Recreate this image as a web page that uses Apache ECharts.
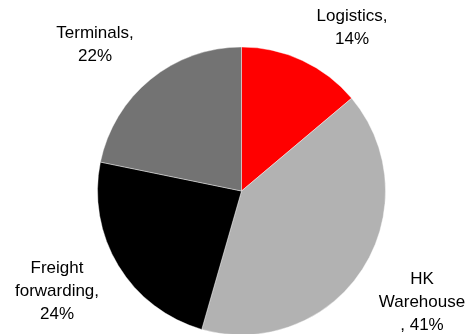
<!DOCTYPE html>
<html>
<head>
<meta charset="utf-8">
<script src="https://cdn.jsdelivr.net/npm/echarts@6/dist/echarts.min.js"></script>
<style>
  html, body { margin: 0; padding: 0; background: #fff; }
  #chart { width: 470px; height: 334px; }
</style>
</head>
<body>
<div id="chart"></div>
<script>
// Segment shares (%), clockwise from 12 o'clock
const categories = ['Logistics', 'HK Warehouse', 'Freight forwarding', 'Terminals'];
const shares = [14, 41, 24, 22];
// Wrapped label text for each segment (value line appended below)
const labelNames = ['Logistics,\n', 'HK\nWarehouse\n, ', 'Freight\nforwarding,\n', 'Terminals,\n'];

const colors = ['#FF0000', '#B2B2B2', '#000000', '#737373'];
// Label block centres (px)
const labelAnchors = [[352, 28], [422, 302], [57, 291], [95, 45]];

const chart = echarts.init(document.getElementById('chart'), null, { renderer: 'canvas' });

chart.setOption({
  animation: false,
  backgroundColor: '#ffffff',
  series: [{
    type: 'pie',
    center: [241.5, 191],
    radius: 144,
    startAngle: 90,
    clockwise: true,
    avoidLabelOverlap: false,
    itemStyle: { borderColor: '#ffffff', borderWidth: 0.4 },
    label: {
      show: true,
      position: 'outside',
      color: '#000000',
      fontFamily: '"Liberation Sans", Arial, sans-serif',
      fontSize: 17,
      lineHeight: 23,
      align: 'center',
      formatter: p => labelNames[p.dataIndex] + p.value + '%'
    },
    labelLine: { show: false },
    labelLayout: p => ({
      x: labelAnchors[p.dataIndex][0],
      y: labelAnchors[p.dataIndex][1],
      align: 'center',
      verticalAlign: 'middle'
    }),
    emphasis: { disabled: true },
    data: categories.map((c, i) => ({
      name: c,
      value: shares[i],
      itemStyle: { color: colors[i] }
    }))
  }]
});
</script>
</body>
</html>
